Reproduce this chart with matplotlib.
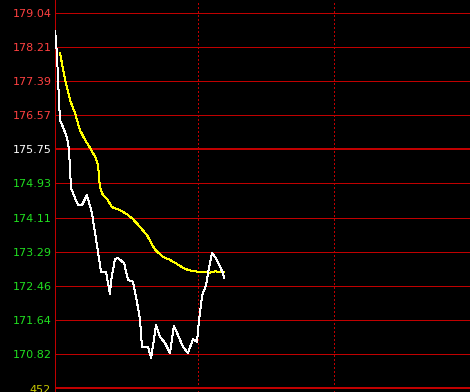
import matplotlib
matplotlib.use("Agg")
import matplotlib.pyplot as plt

# y-axis price labels
tick_values = [179.04, 178.21, 177.39, 176.57, 175.75, 174.93, 174.11,
               173.29, 172.46, 171.64, 170.82]
ref_price = 175.75
bottom_line = 170.00
volume_label = "452"

# price line (white), minutes from open
white_min = [0.0, 0.4, 0.9, 1.3, 2.1, 3.4, 4.7, 5.5, 6.0, 6.8, 7.7, 8.5, 9.8,
             11.5, 13.6, 15.7, 18.3, 19.6, 21.7, 23.4, 23.8, 25.5, 26.8, 29.4,
             31.1, 33.2, 34.9, 36.2, 37.0, 39.6, 40.9, 43.0, 44.7, 46.8, 48.9,
             50.6, 52.3, 54.5, 56.6, 58.7, 60.4, 61.3, 62.6, 64.3, 65.1, 66.8,
             68.1, 69.8, 71.5, 71.9]
white_val = [178.61, 178.39, 177.96, 177.42, 176.46, 176.29, 176.10, 175.93,
             175.69, 174.82, 174.70, 174.58, 174.41, 174.41, 174.65, 174.22,
             173.28, 172.80, 172.80, 172.27, 172.56, 173.11, 173.13, 173.01,
             172.60, 172.56, 172.07, 171.64, 170.99, 170.99, 170.72, 171.52,
             171.23, 171.09, 170.84, 171.49, 171.28, 170.99, 170.84, 171.18,
             171.11, 171.64, 172.24, 172.48, 172.77, 173.25, 173.16, 172.97,
             172.77, 172.65]

# average price line (yellow)
yellow_min = [2.1, 4.3, 6.4, 8.5, 10.6, 12.8, 14.9, 17.4, 18.3, 19.1, 20.4,
              22.1, 24.3, 27.7, 30.6, 33.2, 36.2, 39.1, 42.6, 46.0, 48.9, 51.9,
              55.3, 58.7, 61.7, 66.0, 68.1, 71.9]
yellow_val = [178.08, 177.43, 176.94, 176.63, 176.22, 175.98, 175.79, 175.54,
              175.38, 174.85, 174.65, 174.56, 174.36, 174.29, 174.19, 174.07,
              173.88, 173.69, 173.33, 173.16, 173.09, 172.99, 172.87, 172.82,
              172.80, 172.78, 172.81, 172.80]

# vertical time dividers (minutes)
time_dividers = [60.85, 118.7]

W, H = 470, 392
fig = plt.figure(figsize=(W / 100, H / 100), dpi=100, facecolor="black")
ax = fig.add_axes([55 / W, 0, (W - 55) / W, 1])
ax.set_facecolor("black")

px_per_val = 34.1 / 0.822
top = 179.04 + 13 / px_per_val
bot = 170.82 - (H - 354) / px_per_val
ax.set_ylim(bot, top)
ax.set_xlim(0, (W - 55) / 2.35)

grid_red = "#c00000"
for v in tick_values:
    lw = 2.0 if v == ref_price else 1.0
    ax.axhline(v, color=grid_red, lw=lw * 0.72, antialiased=False, zorder=1)
ax.axhline(bottom_line, color=grid_red, lw=1.44, antialiased=False, zorder=1)
for m in time_dividers:
    ax.axvline(m, color=grid_red, lw=0.72, ls=(0, (1.4, 2.8)), antialiased=False, zorder=1)

ax.plot(yellow_min, yellow_val, color="#ffff00", lw=0.72, antialiased=False, zorder=3)
ax.plot(white_min, white_val, color="white", lw=0.72, antialiased=False, zorder=4)

for s in ["top", "right", "bottom"]:
    ax.spines[s].set_visible(False)
ax.spines["left"].set_color(grid_red)
ax.spines["left"].set_linewidth(0.72)
ax.set_xticks([])
ax.set_yticks(tick_values)
ax.set_yticklabels([f"{v:.2f}" for v in tick_values], fontsize=8, family="DejaVu Sans")
ax.tick_params(axis="y", length=0, pad=2.2)
for v, lab in zip(tick_values, ax.get_yticklabels()):
    if v > ref_price:
        lab.set_color("#ff4040")
    elif v == ref_price:
        lab.set_color("white")
    else:
        lab.set_color("#20e020")

ax.text(-0.0095, 1 - 393 / H, volume_label, transform=ax.transAxes,
        ha="right", va="baseline", fontsize=8, color="#c8c800", clip_on=False)

fig.savefig("out.png", dpi=100, facecolor="black")
